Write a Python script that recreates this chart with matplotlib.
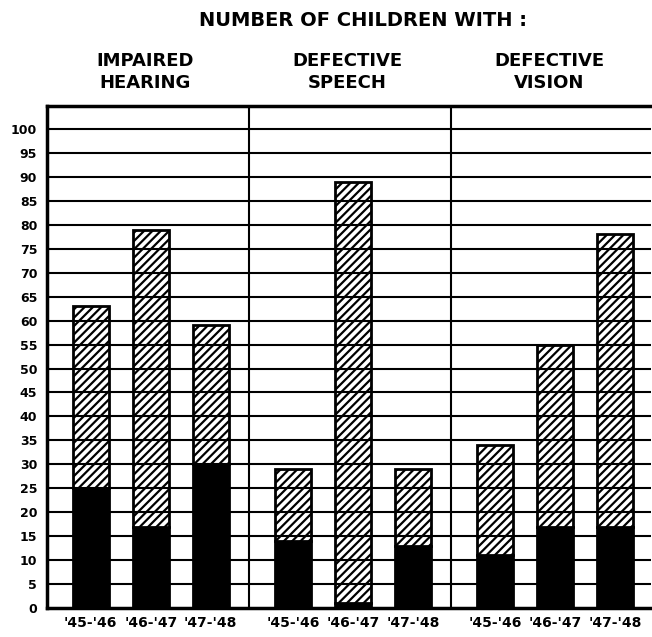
import numpy as np
import matplotlib.pyplot as plt

# Data
groups = ["IMPAIRED\nHEARING", "DEFECTIVE\nSPEECH", "DEFECTIVE\nVISION"]
years = ["'45-'46", "'46-'47", "'47-'48"]
black_part = [[25, 17, 30], [14, 1, 13], [11, 17, 17]]
totals = [[63, 79, 59], [29, 89, 29], [34, 55, 78]]
yticks = list(range(0, 101, 5))

plt.rcParams['font.family'] = ['DejaVu Sans']
plt.rcParams['hatch.linewidth'] = 1.6

fig = plt.figure(figsize=(6.52, 6.37), dpi=100)
ax = fig.add_axes([0.072, 0.0455, 0.926, 0.788])

group_step = 3.37
first = 0.73
width = 0.6

xpos = []
xlab = []
for g in range(len(groups)):
	pos = [g * group_step + first + i for i in range(len(years))]
	blk = np.array(black_part[g])
	top = np.array(totals[g]) - blk
	ax.bar(pos, blk, width=width, color='black', edgecolor='black', linewidth=2, zorder=3)
	ax.bar(pos, top, bottom=blk, width=width, color='white', edgecolor='black',
		hatch='////', linewidth=2, zorder=3)
	xpos += pos
	xlab += years
	# group heading
	ax.text(g * group_step + first + 0.9, 1.028, groups[g], transform=ax.get_xaxis_transform(),
		ha='center', va='bottom', fontsize=13, fontweight='bold', linespacing=1.3)
	if g > 0:
		ax.axvline(g * group_step, color='black', linewidth=1.5, zorder=4)

# horizontal grid drawn over the bars
for y in yticks[1:]:
	ax.axhline(y, color='black', linewidth=1.5, zorder=4)

ax.set_xlim(0, 10.06)
ax.set_ylim(0, 104.8)
ax.set_yticks(yticks)
ax.set_yticklabels([str(v) for v in yticks], fontsize=9, fontweight='bold')
ax.set_xticks(xpos)
ax.set_xticklabels(xlab, fontsize=10, fontweight='bold')
ax.tick_params(length=0, pad=7)
ax.tick_params(axis='x', pad=6)

for side in ['left', 'bottom', 'top']:
	ax.spines[side].set_linewidth(2.5)
	ax.spines[side].set_zorder(5)
ax.spines['right'].set_visible(False)

fig.text(0.557, 0.968, "NUMBER OF CHILDREN WITH :", ha='center', va='center',
	fontsize=14, fontweight='bold')

fig.savefig("out.png", dpi=100)
